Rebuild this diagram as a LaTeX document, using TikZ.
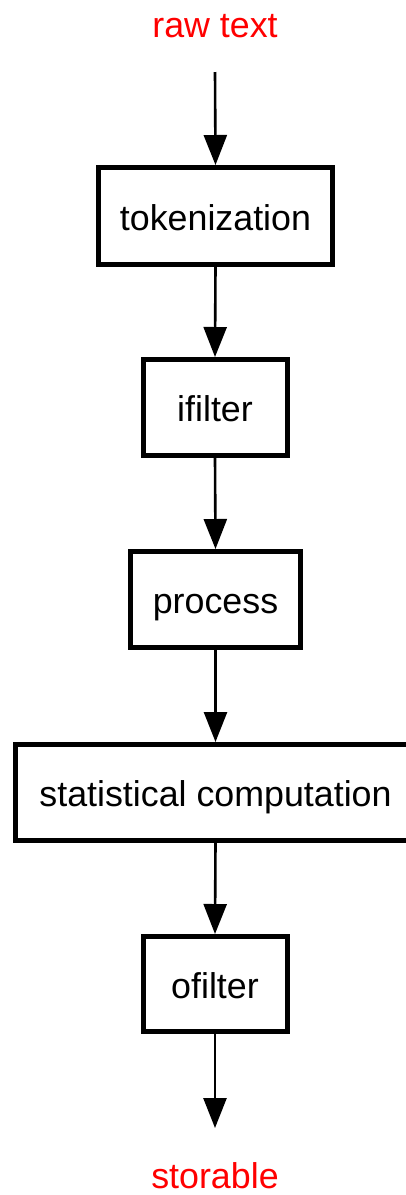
\documentclass[tikz,border=0pt]{standalone}
\usepackage{fontspec}
\setmainfont{Liberation Sans}
\usetikzlibrary{arrows.meta}
\begin{document}
\begin{tikzpicture}[x=1pt,y=-1pt,
  stage/.style={draw=black, line width=5pt, fill=white, rectangle,
    font=\fontsize{35.8}{40}\selectfont, text height=28pt, text depth=0pt,
    inner sep=0pt},
  ends/.style={text=red, font=\fontsize{35.8}{40}\selectfont, anchor=base, inner sep=0pt},
  flow/.style={draw=black, line width=2.6pt, -{Triangle[width=23pt,length=30pt]}}]
  \useasboundingbox (0,0) rectangle (406,1195);
  \clip (0,0) rectangle (406,1195);

  \node[ends] (raw) at (215,37) {raw text};
  \coordinate (src) at (215,72);

  \node[stage, minimum width=234pt, minimum height=97pt] (tok) at (215.5,216) {tokenization};
  \node[stage, minimum width=144pt, minimum height=96pt] (ifl) at (215,407.5) {ifilter};
  \node[stage, minimum width=170pt, minimum height=96pt] (proc) at (215.5,599.5) {process};
  \node[stage, minimum width=400pt, minimum height=96pt] (stat) at (215.5,792.5) {statistical computation};
  \node[stage, minimum width=144pt, minimum height=95pt] (ofl) at (215,984) {ofilter};

  \coordinate (sink) at (215,1128);
  \node[ends] (out) at (215,1188.5) {storable};

  \draw[flow] (src) -- (tok.north);
  \draw[flow] (tok.south) -- (ifl.north);
  \draw[flow] (ifl.south) -- (proc.north);
  \draw[flow] (proc.south) -- (stat.north);
  \draw[flow] (stat.south) -- (ofl.north);
  \draw[flow] (ofl.south) -- (sink);
\end{tikzpicture}
\end{document}
